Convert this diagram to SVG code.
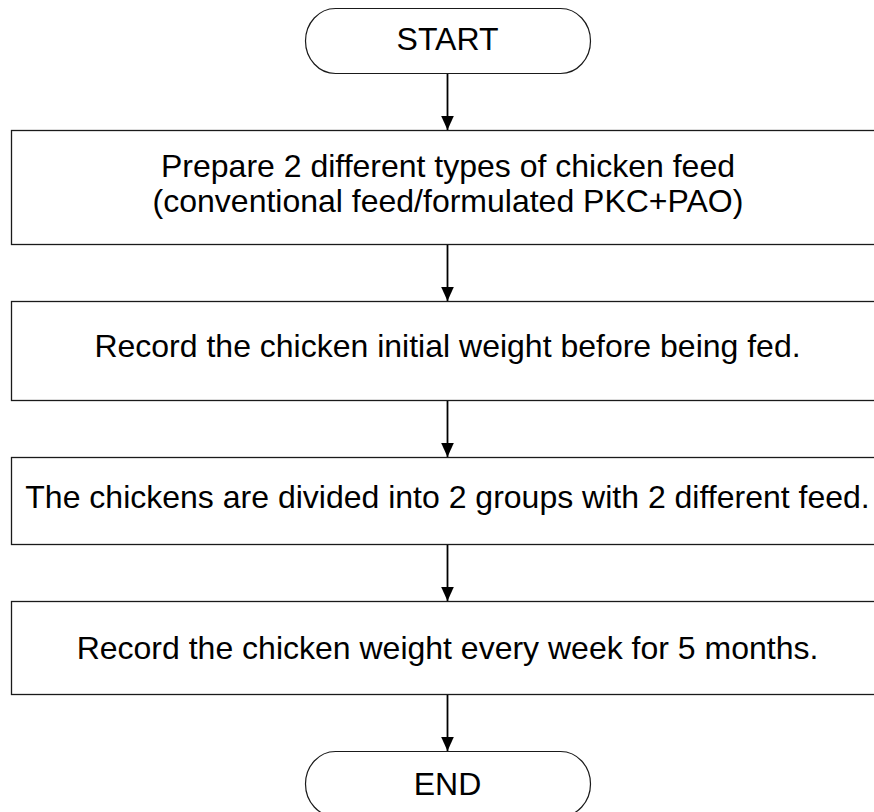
<svg xmlns="http://www.w3.org/2000/svg" width="874" height="812" viewBox="0 0 874 812">
<defs>
<style>
.box{fill:#fff;stroke:#1a1a1a;stroke-width:1.3}
.term{fill:#fff;stroke:#1a1a1a;stroke-width:1.2}
.t{font-family:"Liberation Sans",Arial,sans-serif;font-size:32px;fill:#000;text-anchor:middle}
.conn{stroke:#000;stroke-width:1.8;fill:none}
</style>
<marker id="ah" markerUnits="userSpaceOnUse" markerWidth="14" markerHeight="14" viewBox="0 0 14 14" refX="14" refY="7" orient="auto">
<path d="M0,0.7 L14,7 L0,13.3 Z" fill="#000"/>
</marker>
</defs>
<rect width="874" height="812" fill="#fff"/>
<g id="start">
<rect class="term" x="305.5" y="8.5" width="285" height="65" rx="30" ry="32.5"/>
<text class="t" x="447.5" y="50">START</text>
</g>
<g id="step1">
<rect class="box" x="11.5" y="130.5" width="873" height="114"/>
<text class="t" x="448" y="176.7">Prepare 2 different types of chicken feed</text>
<text class="t" x="448" y="211.7">(conventional feed/formulated PKC+PAO)</text>
</g>
<g id="step2">
<rect class="box" x="11.5" y="301.5" width="873" height="99"/>
<text class="t" x="447.5" y="356.7">Record the chicken initial weight before being fed.</text>
</g>
<g id="step3">
<rect class="box" x="11.5" y="457.5" width="873" height="87"/>
<text class="t" x="447.5" y="507.7">The chickens are divided into 2 groups with 2 different feed.</text>
</g>
<g id="step4">
<rect class="box" x="11.5" y="601.5" width="873" height="93"/>
<text class="t" x="447.5" y="659.3">Record the chicken weight every week for 5 months.</text>
</g>
<g id="end">
<rect class="term" x="305.5" y="751.5" width="285" height="65" rx="30" ry="32.5"/>
<text class="t" x="447.5" y="795">END</text>
</g>
<g id="connectors">
<line class="conn" x1="447.5" y1="74" x2="447.5" y2="130" marker-end="url(#ah)"/>
<line class="conn" x1="447.5" y1="245" x2="447.5" y2="301" marker-end="url(#ah)"/>
<line class="conn" x1="447.5" y1="401" x2="447.5" y2="457" marker-end="url(#ah)"/>
<line class="conn" x1="447.5" y1="545" x2="447.5" y2="601" marker-end="url(#ah)"/>
<line class="conn" x1="447.5" y1="695" x2="447.5" y2="751" marker-end="url(#ah)"/>
</g>
</svg>
